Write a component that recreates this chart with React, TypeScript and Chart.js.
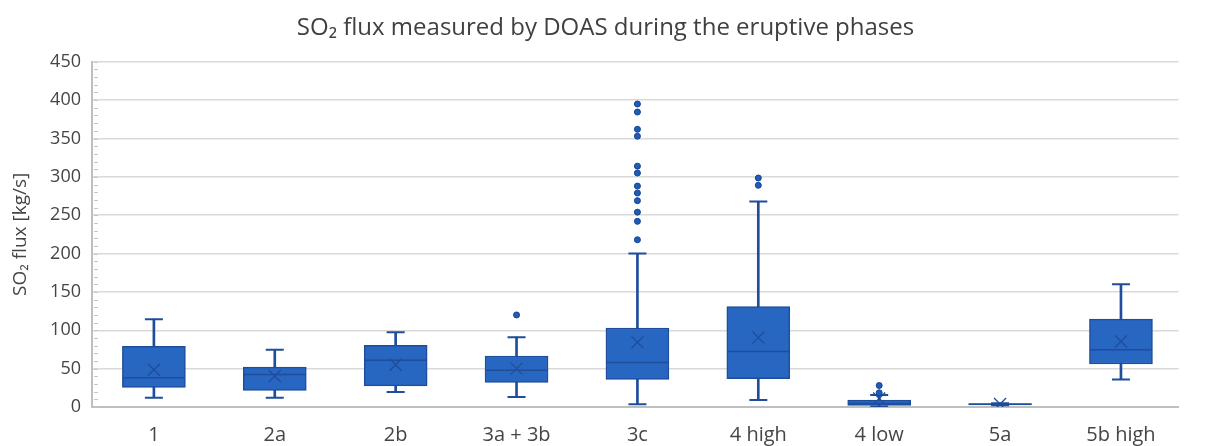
import React, { useEffect, useRef } from 'react';
import { Chart, registerables } from 'chart.js';

Chart.register(...registerables);

const categories = ['1', '2a', '2b', '3a + 3b', '3c', '4 high', '4 low', '5a', '5b high'];
const whiskerLow = [12, 12, 19.5, 13, 3.5, 9, 0.5, 2.2, 36];
const q1 = [25.5, 21.5, 27.5, 32, 36, 37, 2.2, 2.8, 56];
const median = [38, 42.5, 61, 48, 58, 72.5, 4.5, 3.5, 74.5];
const q3 = [79, 52, 80.5, 66.5, 103, 131, 9, 4.3, 114.5];
const whiskerHigh = [114.5, 74.5, 97.5, 91, 200, 268, 15.5, 5, 160];
const mean = [48.5, 40.5, 55, 50, 84.5, 90.5, 11, 3.8, 85.5];
const outliers: number[][] = [
  [],
  [],
  [],
  [120],
  [395, 384.5, 362, 353, 314, 305, 288, 279, 269, 254, 242, 218],
  [298.5, 289],
  [18.5, 28],
  [],
  [],
];
const yTicks = [0, 50, 100, 150, 200, 250, 300, 350, 400, 450];

const FONT = "'Open Sans', 'Liberation Sans', sans-serif";
const TEXT = '#454545';
const FILL = '#2767c1';
const EDGE = '#1f4d9b';

const minorTicks = {
  id: 'minorTicks',
  afterDatasetsDraw(chart: any) {
    const ys = chart.scales.y;
    const ctx = chart.ctx;
    const left = chart.chartArea.left;
    ctx.save();
    ctx.strokeStyle = '#c6c6c6';
    ctx.lineWidth = 1;
    for (let v = 0; v <= 450; v += 10) {
      const py = Math.round(ys.getPixelForValue(v)) + 0.5;
      ctx.beginPath();
      ctx.moveTo(left + 2, py);
      ctx.lineTo(left + 6, py);
      ctx.stroke();
    }
    ctx.restore();
  },
};

export default function App() {
  const ref = useRef<HTMLCanvasElement>(null);
  useEffect(() => {
    const idx = categories.map((_, i) => i);
    const outlierPts: { x: number; y: number }[] = [];
    outliers.forEach((arr, i) => arr.forEach((v) => outlierPts.push({ x: i, y: v })));
    const chart = new Chart(ref.current!, {
      type: 'bar',
      data: {
        datasets: [
          {
            type: 'bar',
            data: idx.map((i) => ({ x: i, y: [whiskerLow[i], whiskerHigh[i]] })) as any,
            backgroundColor: EDGE,
            borderWidth: 0,
            barThickness: 2,
            grouped: false,
            order: 6,
          } as any,
          {
            type: 'bar',
            data: idx.map((i) => ({ x: i, y: [q1[i], q3[i]] })) as any,
            backgroundColor: FILL,
            borderColor: EDGE,
            borderWidth: 1.5,
            borderSkipped: false,
            barThickness: 63,
            grouped: false,
            order: 5,
          } as any,
          {
            type: 'scatter',
            data: idx.map((i) => ({ x: i, y: median[i] })),
            pointStyle: 'line',
            pointRadius: 31,
            pointBorderWidth: 1.5,
            pointBorderColor: EDGE,
            order: 4,
          } as any,
          {
            type: 'scatter',
            data: idx.map((i) => ({ x: i, y: mean[i] })),
            pointStyle: 'crossRot',
            pointRadius: 8.5,
            pointBorderWidth: 1.3,
            pointBorderColor: EDGE,
            order: 3,
          } as any,
          {
            type: 'scatter',
            data: idx.flatMap((i) => [
              { x: i, y: whiskerLow[i] },
              { x: i, y: whiskerHigh[i] },
            ]),
            pointStyle: 'line',
            pointRadius: 9,
            pointBorderWidth: 2,
            pointBorderColor: EDGE,
            order: 2,
          } as any,
          {
            type: 'scatter',
            data: outlierPts,
            pointStyle: 'circle',
            pointRadius: 3,
            pointBorderWidth: 1,
            pointBackgroundColor: '#1f5cb8',
            pointBorderColor: '#144293',
            order: 1,
          } as any,
        ],
      },
      options: {
        animation: false,
        responsive: true,
        maintainAspectRatio: false,
        layout: { padding: 0 },
        plugins: {
          legend: { display: false },
          tooltip: { enabled: false },
          title: {
            display: true,
            text: 'SO₂ flux measured by DOAS during the eruptive phases',
            font: { family: FONT, size: 24, weight: 'normal' },
            color: '#404040',
            padding: { top: 14, bottom: 19 },
          },
        },
        scales: {
          x: {
            type: 'linear',
            min: -0.512,
            max: 8.476,
            offset: false,
            grid: { display: false, drawTicks: false },
            border: { color: '#bfbfbf', width: 2 },
            afterBuildTicks: (s: any) => {
              s.ticks = idx.map((i) => ({ value: i }));
            },
            afterFit: (s: any) => {
              s.height = 39;
            },
            ticks: {
              autoSkip: false,
              maxRotation: 0,
              padding: 16,
              color: TEXT,
              font: { family: FONT, size: 20 },
              callback: (v: any) => categories[v] ?? '',
            },
          },
          y: {
            min: 0,
            max: 450,
            afterBuildTicks: (s: any) => {
              s.ticks = yTicks.map((v) => ({ value: v }));
            },
            afterFit: (s: any) => {
              s.width = 92;
            },
            grid: { color: '#d9d9d9', lineWidth: 1.5, drawTicks: false },
            border: { color: '#bfbfbf', width: 2 },
            ticks: {
              padding: 11,
              color: TEXT,
              font: { family: FONT, size: 18 },
            },
            title: {
              display: true,
              text: 'SO₂ flux [kg/s]',
              color: TEXT,
              font: { family: FONT, size: 19 },
              padding: { top: 9, bottom: 0 },
            },
          },
        },
      } as any,
      plugins: [minorTicks],
    });
    return () => chart.destroy();
  }, []);
  return (
    <div style={{ position: 'absolute', left: 0, top: 0, width: 1211, height: 446 }}>
      <canvas ref={ref} />
    </div>
  );
}
